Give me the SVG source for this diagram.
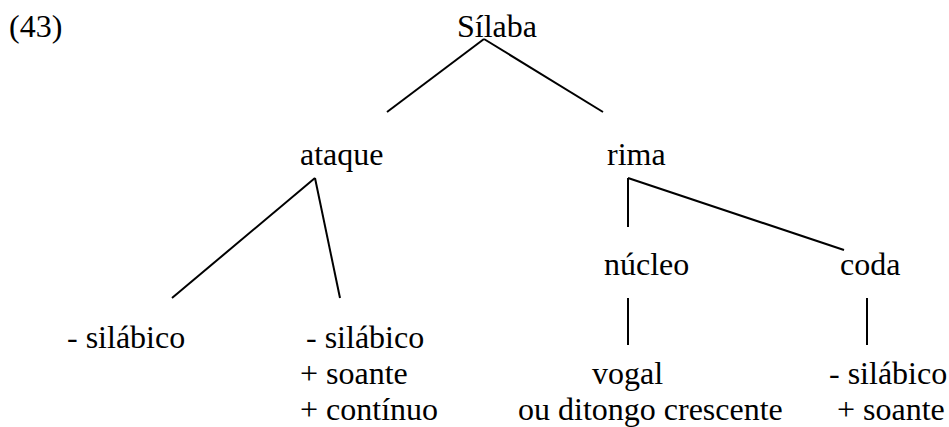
<svg xmlns="http://www.w3.org/2000/svg" width="949" height="427" viewBox="0 0 949 427">
<style>
text{font-family:"Liberation Serif","Times New Roman",serif;font-size:32px;fill:#000}
.c line{stroke:#000;stroke-width:2;fill:none}
</style>
<rect width="949" height="427" fill="#fff"/>
<text id="label43" x="9" y="37">(43)</text>
<g id="silaba"><text x="457" y="37">Sílaba</text></g>
<g id="ataque"><text x="300" y="165">ataque</text></g>
<g id="rima"><text x="607" y="165">rima</text></g>
<g id="nucleo"><text x="604" y="275">núcleo</text></g>
<g id="coda"><text x="840" y="275">coda</text></g>
<g id="ataque1"><text x="67" y="348">- silábico</text></g>
<g id="ataque2">
<text x="306" y="348">- silábico</text>
<text x="300" y="384">+ soante</text>
<text x="300" y="420">+ contínuo</text>
</g>
<g id="nucleo1">
<text x="592" y="384">vogal</text>
<text x="518" y="420">ou ditongo crescente</text>
</g>
<g id="coda1">
<text x="829" y="384">- silábico</text>
<text x="837" y="420">+ soante</text>
</g>
<g id="connectors" class="c">
<line x1="484" y1="39" x2="387" y2="112"/>
<line x1="484" y1="39" x2="603" y2="112"/>
<line x1="315" y1="178" x2="172" y2="298"/>
<line x1="315" y1="178" x2="340" y2="298"/>
<line x1="628" y1="178" x2="628" y2="227"/>
<line x1="628" y1="178" x2="844" y2="250"/>
<line x1="628" y1="298" x2="628" y2="345"/>
<line x1="867" y1="298" x2="867" y2="345"/>
</g>
</svg>
